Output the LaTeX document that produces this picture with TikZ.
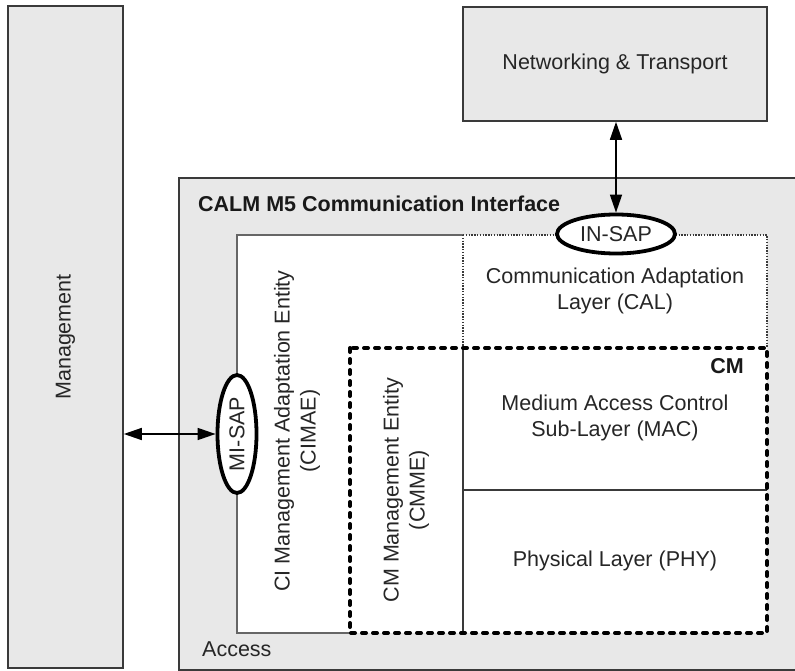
\documentclass[tikz,border=0pt]{standalone}
\usepackage{fontspec}
\setmainfont{Liberation Sans}
\usetikzlibrary{arrows.meta,positioning,shapes.geometric}
\definecolor{panelgray}{HTML}{E8E8E8}
\definecolor{edgegray}{HTML}{3A3A3A}

\begin{document}
\begin{tikzpicture}[
        x=1pt, y=-1pt,
        font=\fontsize{21.5}{26}\selectfont,
        panel/.style={draw=edgegray, line width=1.6pt, fill=panelgray, text=black!85},
        txt/.style={align=center, text=black!85, inner sep=0pt},
        title/.style={font=\fontsize{21.5}{26}\selectfont\bfseries, text=black!90, inner sep=0pt},
        sap/.style={ellipse, draw=black, line width=3.8pt, fill=white, inner sep=0pt, minimum width=118pt, minimum height=39pt, text=black!85},
        frame/.style={draw=black!60, line width=1.6pt},
        dotline/.style={draw=edgegray, line width=1.4pt, dash pattern=on 1.4pt off 1.4pt},
        cmline/.style={draw=black, line width=4pt, line cap=round, dash pattern=on 4pt off 7pt},
        arrow/.style={{Triangle[length=18pt,width=12pt]}-{Triangle[length=18pt,width=12pt]}, line width=1.6pt, draw=black},
    ]

    \useasboundingbox (0,0) rectangle (795,671);

    % Management and upper layer
    \node[panel, minimum width=115pt, minimum height=662pt] (mgmt) at (65.5,337) {};
    \node[txt, rotate=90] (mgmttext) at (mgmt) {Management};
    \node[panel, minimum width=304pt, minimum height=114pt] (nt) at (615,64) {Networking \& Transport};

    % CALM M5 interface
    \draw[draw=edgegray, line width=2.6pt, fill=panelgray] (179,178) rectangle (805,670);
    \node[title, anchor=base west] (calm) at (198,212) {CALM M5 Communication Interface};
    \node[txt, anchor=base west] (access) at (202,656) {Access};

    % Inner layers
    \fill[white] (237,235) rectangle (767,633);
    \draw[frame] (463,235) -- (237,235) -- (237,633) -- (350,633);
    \draw[dotline] (463,235) -- (767,235) -- (767,348);
    \draw[dotline] (463,235) -- (463,348);
    \draw[frame, draw=edgegray] (463,348) -- (463,633);
    \draw[frame, draw=edgegray] (463,490) -- (767,490);
    \draw[cmline] (350,348) rectangle (767,633);
    \node[title, anchor=base east] (cm) at (744,373) {CM};

    \node[txt] (cal) at (615,291) {Communication Adaptation\\Layer (CAL)};
    \node[txt] (mac) at (615,418) {Medium Access Control\\Sub-Layer (MAC)};
    \node[txt] (phy) at (615,561) {Physical Layer (PHY)};
    \node[txt, rotate=90] (cimae) at (297,431) {CI Management Adaptation Entity\\(CIMAE)};
    \node[txt, rotate=90] (cmme) at (406,490) {CM Management Entity\\(CMME)};

    % Service access points
    \node[sap] (insap) at (616,234) {IN-SAP};
    \node[sap, rotate=90] (misap) at (237,434) {MI-SAP};

    % Lines
    \draw[arrow] (insap |- nt.south) -- (insap);
    \draw[arrow] (mgmt.east |- misap) -- (misap);

\end{tikzpicture}
\end{document}
